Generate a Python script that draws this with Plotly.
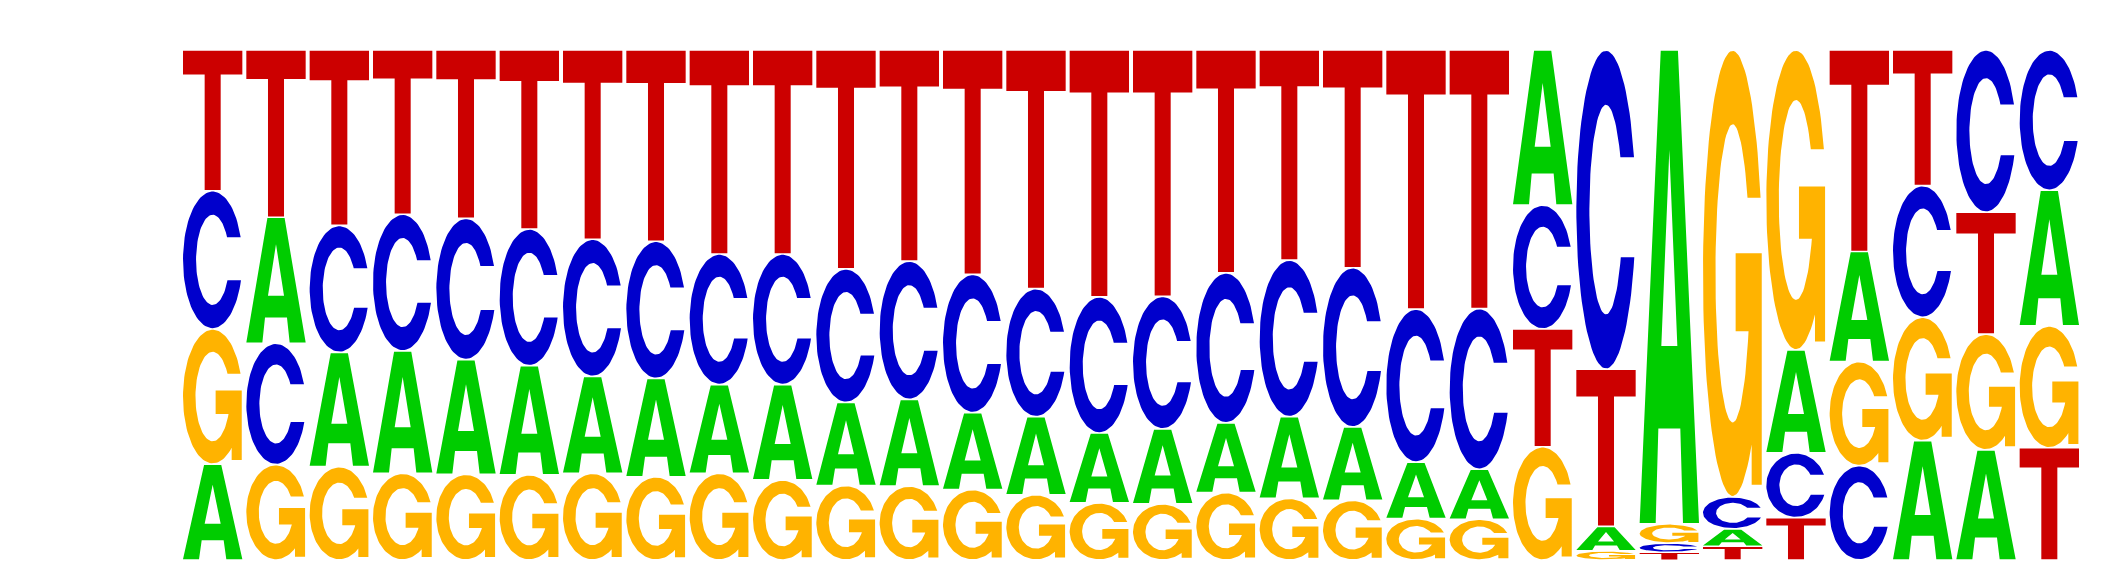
import numpy as np
import plotly.graph_objects as go

# ---------------- data (letter probabilities per position) ----------------
positions = list(range(1, 31))
letters = ["A", "C", "G", "T"]

prob_A = [0.188, 0.247, 0.224, 0.240, 0.225, 0.214, 0.190, 0.193, 0.174, 0.187,
          0.163, 0.170, 0.151, 0.153, 0.137, 0.147, 0.137, 0.160, 0.144, 0.111,
          0.098, 0.304, 0.048, 0.929, 0.034, 0.202, 0.216, 0.234, 0.216, 0.266]
prob_C = [0.271, 0.238, 0.249, 0.268, 0.277, 0.268, 0.269, 0.269, 0.256, 0.256,
          0.262, 0.271, 0.271, 0.251, 0.267, 0.260, 0.294, 0.307, 0.312, 0.300,
          0.315, 0.243, 0.626, 0.018, 0.063, 0.127, 0.185, 0.258, 0.318, 0.275]
prob_G = [0.265, 0.187, 0.183, 0.170, 0.168, 0.167, 0.170, 0.163, 0.170, 0.157,
          0.146, 0.145, 0.138, 0.128, 0.112, 0.110, 0.132, 0.121, 0.117, 0.081,
          0.080, 0.222, 0.018, 0.038, 0.876, 0.588, 0.204, 0.242, 0.227, 0.239]
prob_T = [0.276, 0.328, 0.344, 0.322, 0.330, 0.351, 0.371, 0.375, 0.400, 0.400,
          0.429, 0.414, 0.440, 0.468, 0.484, 0.483, 0.437, 0.412, 0.427, 0.508,
          0.507, 0.231, 0.308, 0.015, 0.027, 0.083, 0.395, 0.266, 0.239, 0.220]

colors = {"A": "#00CC00", "C": "#0000CC", "G": "#FFB300", "T": "#CC0000"}


# ---------------- glyph outlines in a unit box ----------------
def ellipse(cx, cy, rx, ry, t0, t1, n):
    t = np.linspace(t0, t1, n)
    return list(zip(cx + rx * np.cos(t), cy + ry * np.sin(t)))


def glyph_T():
    return [[(0, 1), (0, 0.83), (0.365, 0.83), (0.365, 0), (0.635, 0),
             (0.635, 0.83), (1, 0.83), (1, 1)]]


def glyph_A():
    outer = [(0, 0), (0.27, 0), (0.315, 0.2), (0.685, 0.2), (0.73, 0),
             (1, 0), (0.645, 1), (0.355, 1)]
    hole = [(0.365, 0.375), (0.5, 0.79), (0.635, 0.375)]
    return [outer, hole]


def glyph_C():
    y_up, y_lo = 0.665, 0.35
    rx, ry = 0.28, 0.33
    t1 = np.arcsin((y_up - 0.5) / 0.5)
    t2 = 2 * np.pi + np.arcsin((y_lo - 0.5) / 0.5)
    outer = ellipse(0.5, 0.5, 0.5, 0.5, t1, t2, 90)
    s_lo = np.arcsin((y_lo - 0.5) / ry)
    s_up = np.arcsin((y_up - 0.5) / ry)
    inner = ellipse(0.5, 0.5, rx, ry, 2 * np.pi + s_lo, s_up, 80)
    return [outer + inner]


def glyph_G():
    y_up = 0.67
    rx, ry = 0.29, 0.335
    t1 = np.arcsin((y_up - 0.5) / 0.5)
    t2 = 2 * np.pi - np.arccos((0.82 - 0.5) / 0.5)
    outer = ellipse(0.5, 0.5, 0.5, 0.5, t1, t2, 90)
    s_bar = np.arcsin((0.37 - 0.5) / ry)
    s_up = np.arcsin((y_up - 0.5) / ry)
    bar_x = 0.5 + rx * np.cos(s_bar)
    spur = [(0.82, 0.025), (0.99, 0.025), (0.99, 0.545), (0.55, 0.545),
            (0.55, 0.37), (bar_x, 0.37)]
    inner = ellipse(0.5, 0.5, rx, ry, s_bar, s_up - 2 * np.pi, 80)
    return [outer + spur + inner]


glyphs = {"A": glyph_A(), "C": glyph_C(), "G": glyph_G(), "T": glyph_T()}

# ---------------- build the logo ----------------
probs = {"A": prob_A, "C": prob_C, "G": prob_G, "T": prob_T}
W = 0.937

fig = go.Figure()
for i, pos in enumerate(positions):
    stack = sorted((probs[L][i], L) for L in letters)
    y0 = 0.0
    for h, L in stack:
        pad = min(0.0016, 0.08 * h)
        xs, ys = [], []
        for ring in glyphs[L]:
            for u, v in ring + [ring[0]]:
                xs.append(pos - W / 2 + u * W)
                ys.append(y0 + pad + v * (h - 2 * pad))
            xs.append(None)
            ys.append(None)
        fig.add_trace(go.Scatter(
            x=xs, y=ys, mode="lines", fill="toself",
            fillcolor=colors[L], line=dict(width=0, color=colors[L]),
            hoverinfo="skip", showlegend=False))
        y0 += h

fig.update_layout(
    width=2125, height=588,
    margin=dict(l=173, r=52, t=42, b=36),
    paper_bgcolor="white", plot_bgcolor="white",
    xaxis=dict(range=[0.5, 30.5], visible=False, fixedrange=True),
    yaxis=dict(range=[0, 1], visible=False, fixedrange=True),
)

fig.write_html("out.html")
